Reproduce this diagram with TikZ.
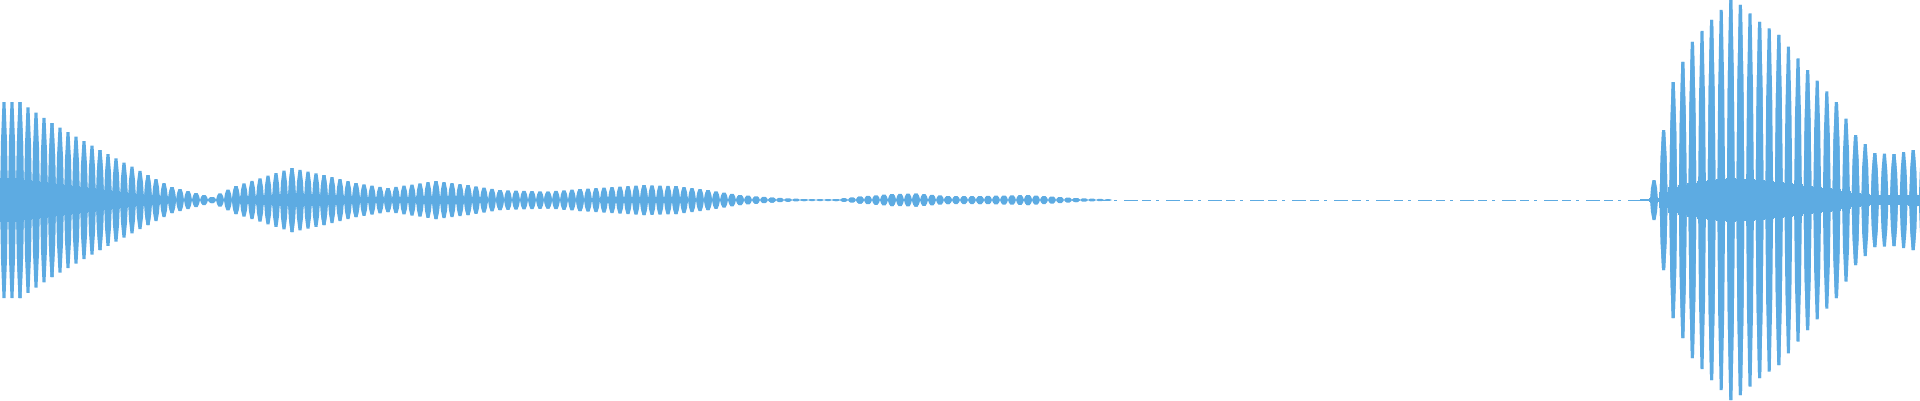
\documentclass[tikz,border=0pt]{standalone}
\definecolor{wave}{RGB}{93,171,226}
\begin{document}
\begin{tikzpicture}[x=1pt,y=1pt]
\useasboundingbox (0,0) rectangle (1920,400);
\tikzset{pulse/.style={fill=wave,draw=none}}
\newcommand{\wpulse}[4]{% x, A, period, band factor
  \fill[pulse] ({#1-4},200)--({#1-3},{200+0.6*#2})--({#1-1.5},{200+#2})--({#1+1.5},{200+#2})--({#1+3},{200+0.6*#2})--({#1+4},200)--({#1+3},{200-0.6*#2})--({#1+1.5},{200-#2})--({#1-1.5},{200-#2})--({#1-3},{200-0.6*#2})--cycle;
  \pgfmathparse{#2>12?1:0}%
  \ifnum\pgfmathresult=1
    \fill[pulse] ({#1-#3/2-0.2},{200-#4*#2}) rectangle ({#1+#3/2+0.2},{200+#4*#2});
  \fi
}
% quiet centre line
\draw[wave,line width=1pt,dash pattern=on 9pt off 5pt on 3pt off 7pt on 14pt off 4pt] (1100,200) -- (1650,200);
% left and middle part, period 8
\foreach \na/\aa/\nb/\ab in {0/98/2/98,2/98/6/77,6/77/12/50,12/50/18/25,18/25/21/13,21/13/26/3,26/3/29/14,29/14/36/32,36/32/40/25,40/25/44/17,44/17/48/12,48/12/54/19,54/19/58/15,58/15/62/10,62/10/68/8.5,68/8.5/72/11,72/11/80/15,80/15/84/14,84/14/88/10,88/10/92/5,92/5/96/2.5,96/2.5/100/1,100/1/104/1,104/1/107/3.5,107/3.5/111/6,111/6/114/6.5,114/6.5/118/4,118/4/122/4,122/4/128/5,128/5/134/2,134/2/138/0.8}{
  \foreach \n in {\na,...,\nb}{
    \pgfmathsetmacro\A{\aa+(\ab-\aa)*(\n-\na)/(\nb-\na)}
    \pgfmathsetmacro\xx{4+8*\n}
    \wpulse{\xx}{\A}{8}{0.22}
  }
}
% right burst, period 9.6
\foreach \na/\aa/\nb/\ab in {0/20/1/70,1/70/2/118,2/118/3/138,3/138/4/158,4/158/6/180,6/180/8/200,8/200/9/195,9/195/11/178,11/178/13/165,13/165/16/130,16/130/19/98,19/98/21/65,21/65/23/47,23/47/25/46,25/46/27/50,27/50/28/50}{
  \foreach \n in {\na,...,\nb}{
    \pgfmathsetmacro\A{\aa+(\ab-\aa)*(\n-\na)/(\nb-\na)}
    \pgfmathsetmacro\xx{1654+9.6*\n}
    \wpulse{\xx}{\A}{9.6}{0.11}
  }
}
\draw[wave,line width=1.5pt] (1640,200) -- (1654,200);
\end{tikzpicture}
\end{document}
